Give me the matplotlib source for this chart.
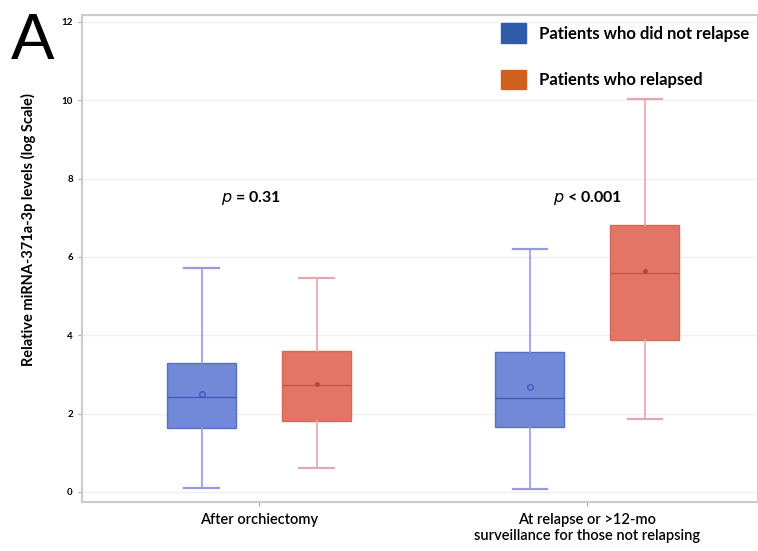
import matplotlib.pyplot as plt
from matplotlib.patches import Patch

plt.rcParams["font.family"] = ["Lato", "DejaVu Sans"]

groups = ["After orchiectomy", "At relapse or >12-mo\nsurveillance for those not relapsing"]
series = ["Patients who did not relapse", "Patients who relapsed"]

# box stats per series, one entry per group
no_relapse_low = [0.11, 0.07]
no_relapse_q1 = [1.64, 1.67]
no_relapse_med = [2.43, 2.41]
no_relapse_q3 = [3.30, 3.58]
no_relapse_high = [5.72, 6.20]
no_relapse_mean = [2.50, 2.67]

relapse_low = [0.60, 1.86]
relapse_q1 = [1.80, 3.88]
relapse_med = [2.73, 5.59]
relapse_q3 = [3.60, 6.82]
relapse_high = [5.46, 10.02]
relapse_mean = [2.75, 5.65]

p_labels = ["$\\it{p}$ = 0.31", "$\\it{p}$ < 0.001"]
p_y = [7.5, 7.5]
p_dx = [-0.025, 0.0]

fig = plt.figure(figsize=(7.58, 5.51), dpi=100)
ax = fig.add_axes([0.108, 0.089, 0.892, 0.884])

def stats(low, q1, med, q3, high, mean):
    return [dict(whislo=a, q1=b, med=c, q3=d, whishi=e, mean=f, fliers=[])
            for a, b, c, d, e, f in zip(low, q1, med, q3, high, mean)]

off = 0.175
w = 0.21
pos = list(range(len(groups)))

ax.bxp(stats(no_relapse_low, no_relapse_q1, no_relapse_med, no_relapse_q3,
             no_relapse_high, no_relapse_mean),
       positions=[p - off for p in pos], widths=w, patch_artist=True, showmeans=True,
       boxprops=dict(facecolor="#7189d6", edgecolor="#5a6fcc", linewidth=1),
       medianprops=dict(color="#4658c0", linewidth=1),
       whiskerprops=dict(color="#9898de", linewidth=1.2),
       capprops=dict(color="#9898de", linewidth=1.6),
       meanprops=dict(marker="o", markersize=4, markerfacecolor="none",
                      markeredgecolor="#4658c0"))

ax.bxp(stats(relapse_low, relapse_q1, relapse_med, relapse_q3,
             relapse_high, relapse_mean),
       positions=[p + off for p in pos], widths=w, patch_artist=True, showmeans=True,
       boxprops=dict(facecolor="#e27565", edgecolor="#d86a5c", linewidth=1),
       medianprops=dict(color="#c85545", linewidth=1),
       whiskerprops=dict(color="#e6a6ae", linewidth=1.2),
       capprops=dict(color="#e6a6ae", linewidth=1.6),
       meanprops=dict(marker="o", markersize=2.5, markerfacecolor="#c04040",
                      markeredgecolor="#c04040"))

for x, dx, t, y in zip(pos, p_dx, p_labels, p_y):
    ax.text(x + dx, y, t, ha="center", va="center", fontsize=11.5, fontweight="bold")

ax.set_xlim(-0.54, 1.52)
ax.set_ylim(-0.255, 12.18)
ax.set_xticks(pos)
ax.set_xticklabels(groups, fontsize=10.5, fontweight="semibold")
ax.set_yticks(range(0, 13, 2))
for lab in ax.get_yticklabels():
    lab.set_fontsize(7)
    lab.set_fontweight("bold")
ax.yaxis.grid(True, color="#f0f0f0", linewidth=1)
ax.set_axisbelow(True)
for s in ax.spines.values():
    s.set_color("#cccccc")
    s.set_linewidth(1.5)
ax.tick_params(colors="#aaaaaa", labelcolor="black", length=3)
ax.tick_params(axis="x", pad=5)
ax.set_ylabel("Relative miRNA-371a-3p levels (log Scale)", fontsize=10.5,
              fontweight="bold")
ax.yaxis.set_label_coords(-0.068, 0.56)

handles = [Patch(facecolor="#2f5ba8", edgecolor="#2f5ba8"),
           Patch(facecolor="#d0601e", edgecolor="#d0601e")]
ax.legend(handles, series, loc="upper right", bbox_to_anchor=(1.0, 1.0), frameon=False,
          prop=dict(size=12, weight="bold"), handlelength=1.5, handleheight=1.45,
          labelspacing=1.6, handletextpad=0.8, borderaxespad=0.1)

fig.text(0.015, 0.978, "A", fontsize=47, va="top", family="Liberation Sans")

fig.savefig("out.png", dpi=100)
